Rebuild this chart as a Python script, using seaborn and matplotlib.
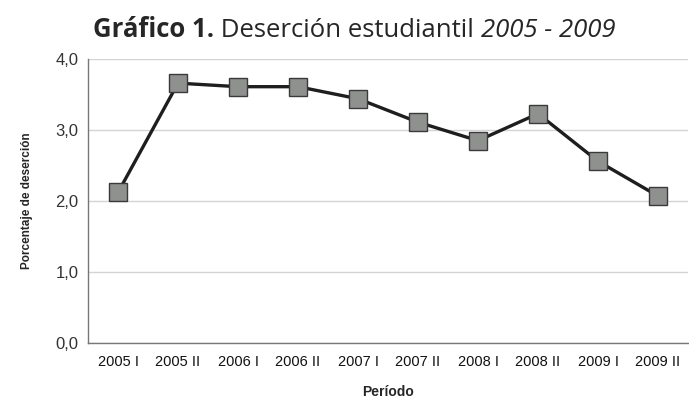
import matplotlib
matplotlib.use('Agg')
import matplotlib.pyplot as plt
import matplotlib.ticker as mticker
import seaborn as sns
import pandas as pd
import numpy as np

periodos = ['2005 I', '2005 II', '2006 I', '2006 II', '2007 I',
            '2007 II', '2008 I', '2008 II', '2009 I', '2009 II']
desercion = [2.12, 3.66, 3.61, 3.61, 3.44, 3.11, 2.85, 3.23, 2.56, 2.07]

df = pd.DataFrame({'Periodo': periodos, 'Desercion': desercion})

sns.set_style('white')
plt.rcParams['font.family'] = ['Liberation Sans', 'DejaVu Sans']

fig = plt.figure(figsize=(6.89, 4.03), dpi=100)
ax = fig.add_axes([88 / 689, 1 - 343 / 403, 600 / 689, 284 / 403])

sns.lineplot(data=df, x='Periodo', y='Desercion', ax=ax, sort=False,
             color='#1e1e1e', linewidth=2.4, marker='s', markersize=13,
             markerfacecolor='#8f918f', markeredgecolor='#3a3a3a',
             markeredgewidth=1.0)

ax.set_xlim(-0.5, len(periodos) - 0.5)
ax.set_ylim(0, 4)
ax.set_yticks([0, 1, 2, 3, 4])
ax.yaxis.set_major_formatter(mticker.FuncFormatter(lambda v, p: f'{v:.1f}'.replace('.', ',')))
ax.grid(axis='y', color='#d4d4d4', linewidth=1.0)
ax.set_axisbelow(True)

# tick marks between categories
ax.set_xticks(np.arange(-0.5, len(periodos), 1.0), minor=True)
ax.tick_params(axis='x', which='major', length=0, pad=9, labelsize=10.5, labelcolor='#111111')
ax.tick_params(axis='x', which='minor', length=4, direction='inout', color='#777777')
ax.tick_params(axis='y', length=4, direction='out', color='#777777', labelsize=12,
               labelcolor='#333333', pad=3)

for s in ['top', 'right']:
    ax.spines[s].set_visible(False)
for s in ['left', 'bottom']:
    ax.spines[s].set_color('#777777')
    ax.spines[s].set_linewidth(1.0)

ax.set_xlabel('Período', fontsize=10, fontweight='bold', labelpad=11)
ax.set_ylabel('Porcentaje de deserción', fontsize=8.5, fontweight='bold', labelpad=16)

# title in three styles
tfam = ['Open Sans', 'DejaVu Sans']
fig.canvas.draw()
r = fig.canvas.get_renderer()
x0, y0 = 93 / 689, 1 - 37 / 403
t1 = fig.text(x0, y0, 'Gráfico 1.', fontsize=18.5, fontweight='bold', family=tfam)
w = t1.get_window_extent(r).width / fig.bbox.width
t2 = fig.text(x0 + w, y0, ' Deserción estudiantil ', fontsize=18.5, family=tfam)
w2 = t2.get_window_extent(r).width / fig.bbox.width
fig.text(x0 + w + w2, y0, '2005 - 2009', fontsize=18.5, style='italic', family=tfam)

fig.savefig('out.png', dpi=100)
